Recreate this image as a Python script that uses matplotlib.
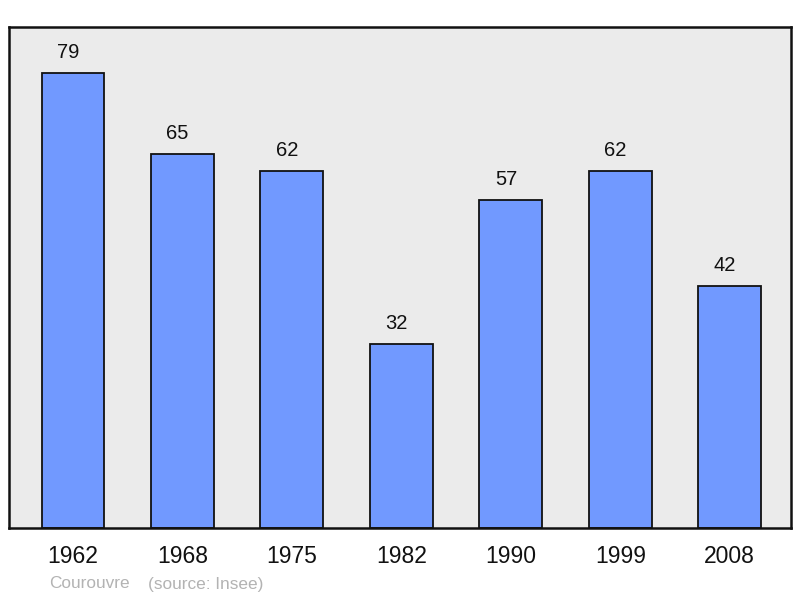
import matplotlib.pyplot as plt

plt.rcParams['font.family'] = ['Liberation Sans', 'DejaVu Sans']

years = ['1962', '1968', '1975', '1982', '1990', '1999', '2008']
population = [79, 65, 62, 32, 57, 62, 42]

fig = plt.figure(figsize=(8, 5.98), dpi=100)
ax = fig.add_axes([9 / 800, 1 - 528 / 598, 782 / 800, 501 / 598])
ax.set_facecolor('#ebebeb')

x = range(len(years))
ax.bar(x, population, width=0.575, color='#7199ff', edgecolor='#111111',
       linewidth=1.3, zorder=2)
# value labels sit a little left of the bar centre
for xi, v in zip(x, population):
    ax.text(xi - 0.045, v + 3.5, str(v), ha='center', va='center',
            fontsize=14.5, color='#111111')

ax.set_xlim(-0.585, 6.56)
ax.set_ylim(0, 87)
ax.set_xticks(list(x))
ax.set_xticklabels(years, fontsize=16.5, color='#111111')
ax.tick_params(axis='x', length=0, pad=12)
ax.set_yticks([])
for s in ax.spines.values():
    s.set_linewidth(1.8)
    s.set_color('#111111')

fig.text(49 / 800, 1 - 584 / 598, 'Courouvre', fontsize=12.4, color='#b3b3b3',
         ha='left', va='center')
fig.text(148 / 800, 1 - 584 / 598, '(source: Insee)', fontsize=12.4,
         color='#b3b3b3', ha='left', va='center')

fig.savefig('out.png', dpi=100)
